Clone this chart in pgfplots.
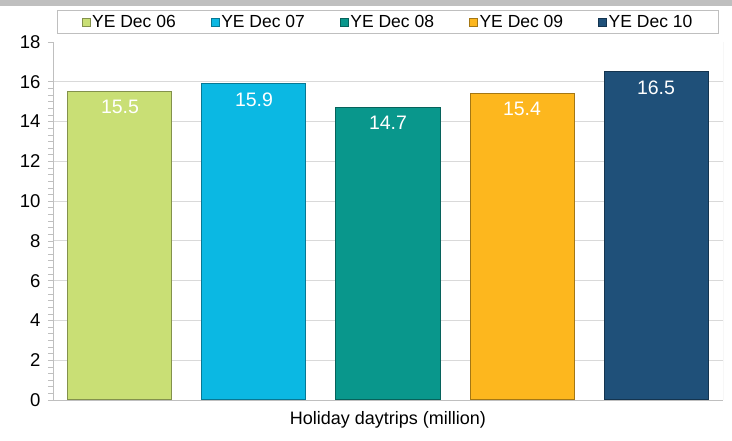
\documentclass[border=0pt]{standalone}
\usepackage{fontspec}
\setmainfont{Liberation Sans}
\usepackage{pgfplots}
\pgfplotsset{compat=1.18}

\definecolor{ye06}{HTML}{C9DF75}
\definecolor{ye07}{HTML}{0BB8E3}
\definecolor{ye08}{HTML}{09978C}
\definecolor{ye09}{HTML}{FDB71E}
\definecolor{ye10}{HTML}{1F5079}
\definecolor{axisgray}{HTML}{BFBFBF}
\definecolor{gridgray}{HTML}{D9D9D9}

\begin{document}
\begin{tikzpicture}
\useasboundingbox (-53pt,-41pt) rectangle (679pt,400pt);
\fill[axisgray] (-53pt,394pt) rectangle (679pt,400pt);
\begin{axis}[
    scale only axis,
    width=670pt, height=358pt,
    ybar, bar width=104pt, bar shift=0pt,
    xmin=-0.5, xmax=4.5,
    ymin=0, ymax=18,
    xtick=\empty,
    ytick={0,2,...,16},
    extra y ticks={18},
    extra y tick style={grid=none},
    minor y tick num=5,
    ymajorgrids=true,
    grid style={gridgray, line width=0.8pt},
    axis x line*=bottom, axis y line*=left,
    axis line style={axisgray, line width=0.8pt},
    y axis line style={-}, x axis line style={-},
    tick align=outside,
    major tick length=5pt, minor tick length=5pt,
    every tick/.style={axisgray, line width=0.6pt},
    tick label style={font=\fontsize{18.5}{20}\selectfont, black},
    yticklabel style={xshift=-4pt},
    /pgf/number format/assume math mode=true,
    xlabel={Holiday daytrips (million)},
    xlabel style={font=\fontsize{18}{20}\selectfont, yshift=-3pt},
    nodes near coords,
    every node near coord/.append style={anchor=north, yshift=-5pt,
        white, font=\fontsize{19.5}{21}\selectfont},
    legend columns=5,
    legend style={at={(0.5,1.056)}, anchor=center,
        draw=axisgray, line width=0.8pt,
        font=\fontsize{17.5}{19}\selectfont,
        /tikz/every even column/.append style={column sep=33pt},
        inner xsep=24pt, inner ysep=2.5pt},
    legend image code/.code={
        \draw[#1, line width=0.5pt] (0pt,-4pt) rectangle (8pt,4pt);},
]
\addplot[fill=ye06, draw=ye06!65!black, line width=1pt] coordinates {(0,15.5)};
\addlegendentry{YE Dec 06}
\addplot[fill=ye07, draw=ye07!65!black, line width=1pt] coordinates {(1,15.9)};
\addlegendentry{YE Dec 07}
\addplot[fill=ye08, draw=ye08!65!black, line width=1pt] coordinates {(2,14.7)};
\addlegendentry{YE Dec 08}
\addplot[fill=ye09, draw=ye09!65!black, line width=1pt] coordinates {(3,15.4)};
\addlegendentry{YE Dec 09}
\addplot[fill=ye10, draw=ye10!65!black, line width=1pt] coordinates {(4,16.5)};
\addlegendentry{YE Dec 10}
\draw[axisgray, line width=0.8pt] (rel axis cs:1,0) -- (rel axis cs:1,1);
\end{axis}
\end{tikzpicture}
\end{document}
